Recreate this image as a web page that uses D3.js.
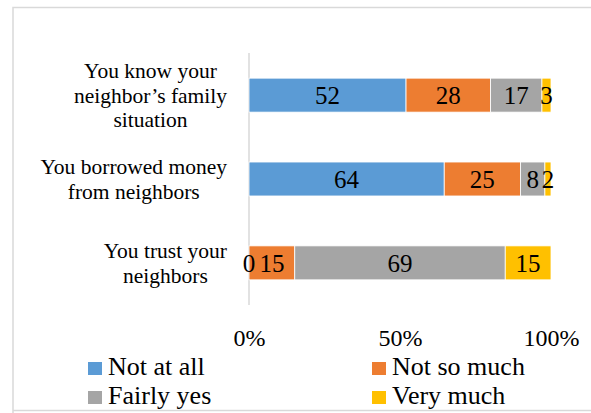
<!DOCTYPE html>
<html>
<head>
<meta charset="utf-8">
<script src="https://cdn.jsdelivr.net/npm/d3@7"></script>
<style>
  html, body { margin: 0; padding: 0; background: #fff; }
  svg { display: block; }
</style>
</head>
<body>
<svg id="chart" width="591" height="413"></svg>
<script>
// Survey items (top to bottom) and the share of answers per response level
const categories = [
  ["You know your", "neighbor\u2019s family", "situation"],
  ["You borrowed money", "from neighbors"],
  ["You trust your", "neighbors"]
];
const seriesNames = ["Not at all", "Not so much", "Fairly yes", "Very much"];
const notAtAll   = [52, 64, 0];
const notSoMuch  = [28, 25, 15];
const fairlyYes  = [17, 8, 69];
const veryMuch   = [3, 2, 15];
const tickValues = [0, 0.5, 1];
const tickLabels = ["0%", "50%", "100%"];
const colors = ["#5B9BD5", "#ED7D31", "#A5A5A5", "#FFC000"];
const SERIF = "'Liberation Serif', 'Times New Roman', serif";

const seriesValues = [notAtAll, notSoMuch, fairlyYes, veryMuch];
const rows = categories.map((c, i) => {
  const r = { key: i };
  seriesNames.forEach((s, j) => { r[s] = seriesValues[j][i]; });
  return r;
});

const svg = d3.select("#chart");

// outer frame
svg.append("path")
  .attr("d", "M13,413 V7.5 H591 M13,410.5 H591")
  .attr("fill", "none").attr("stroke", "#d9d9d9").attr("stroke-width", 1.5);

const x = d3.scaleLinear().domain([0, 1]).range([249, 551]);
const y = d3.scaleBand().domain(rows.map(r => r.key)).range([53, 305])
  .paddingInner(0.595).paddingOuter(0.3);

// normalise each row so the bar spans 0-100%
const stack = d3.stack().keys(seriesNames).offset(d3.stackOffsetExpand);
const layers = stack(rows);

// category axis line
svg.append("line")
  .attr("x1", x(0)).attr("x2", x(0)).attr("y1", 53).attr("y2", 305)
  .attr("stroke", "#d9d9d9").attr("stroke-width", 1.5);

const g = svg.append("g");
layers.forEach((layer, j) => {
  g.selectAll(null).data(layer).enter().append("rect")
    .attr("x", d => x(d[0]))
    .attr("width", d => x(d[1]) - x(d[0]))
    .attr("y", (d, i) => y(rows[i].key))
    .attr("height", y.bandwidth())
    .attr("fill", colors[j])
    .attr("stroke", "#fff").attr("stroke-width", 0.8);
});

// value labels centred in each segment
layers.forEach((layer, j) => {
  g.selectAll(null).data(layer).enter().append("text")
    .attr("x", d => (x(d[0]) + x(d[1])) / 2)
    .attr("y", (d, i) => y(rows[i].key) + y.bandwidth() / 2)
    .attr("dy", "0.35em")
    .attr("text-anchor", "middle")
    .style("font-family", SERIF)
    .style("font-size", "25px")
    .text((d, i) => seriesValues[j][i]);
});

// category labels: wrapped lines centred within a right-aligned block
const labelRight = 227, lineH = 24.7, catFont = 21.5;
categories.forEach((lines, i) => {
  const cy = y(rows[i].key) + y.bandwidth() / 2;
  const t = svg.append("text")
    .style("font-family", SERIF)
    .style("font-size", catFont + "px")
    .attr("text-anchor", "middle");
  const spans = lines.map((ln, k) => t.append("tspan").text(ln)
    .attr("y", cy + (k - (lines.length - 1) / 2) * lineH)
    .attr("dy", "0.35em"));
  const w = d3.max(spans, s => s.node().getComputedTextLength());
  spans.forEach(s => s.attr("x", labelRight - w / 2));
});

// value axis tick labels
const xAxis = d3.axisBottom(x).tickValues(tickValues)
  .tickFormat((d, i) => tickLabels[i]).tickSize(0).tickPadding(0);
const ax = svg.append("g").attr("transform", "translate(0,329)").call(xAxis)
  .attr("font-family", null).attr("font-size", null);
ax.select(".domain").remove();
ax.selectAll("text").style("font-size", "24px")
  .style("font-family", SERIF)
  .attr("fill", "#000").attr("dy", "0.71em");

// legend, two columns by two rows
const legendPos = [[88, 362], [372, 362], [88, 391], [372, 391]];
seriesNames.forEach((name, j) => {
  const [lx, ly] = legendPos[j];
  svg.append("rect").attr("x", lx).attr("y", ly).attr("width", 14).attr("height", 13)
    .attr("fill", colors[j]);
  svg.append("text").attr("x", lx + 20).attr("y", ly + 13)
    .style("font-family", SERIF)
    .style("font-size", "26px").text(name);
});
</script>
</body>
</html>
